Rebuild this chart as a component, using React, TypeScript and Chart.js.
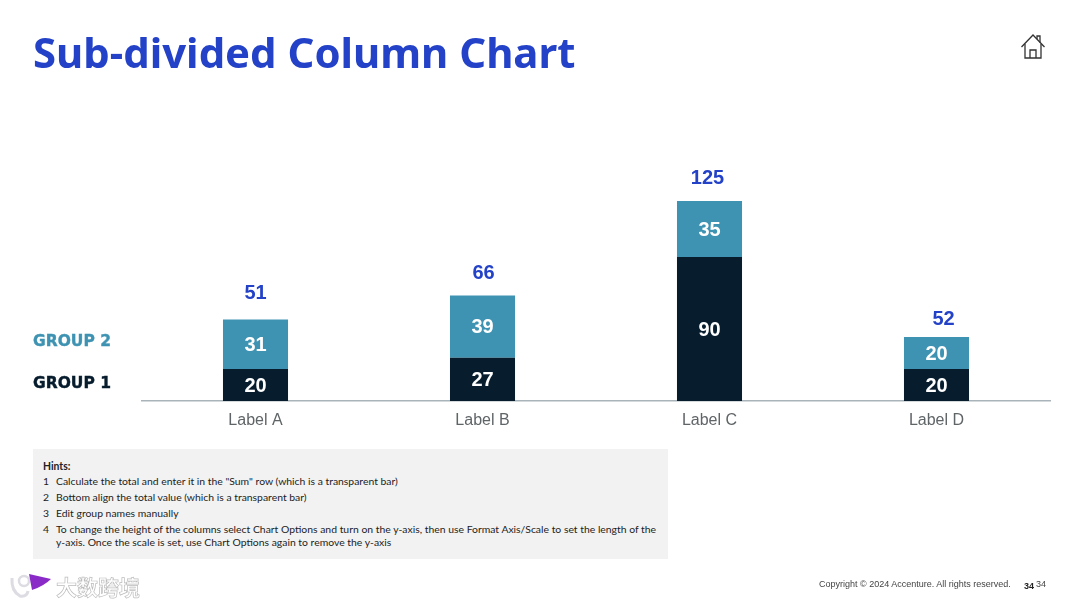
import React, { useEffect, useRef } from "react";
import { Chart, registerables } from "chart.js";

Chart.register(...registerables);

const categories = ["Label A", "Label B", "Label C", "Label D"];
const group1 = [20, 27, 90, 20];
const group2 = [31, 39, 35, 20];
const totals = [51, 66, 125, 52];
const totalGaps = [27, 23, 24, 19];
const totalShifts = [0, 1, -2, 7];
const hintLines = [
  { n: "1", t: 'Calculate the total and enter it in the "Sum" row (which is a transparent bar)', y: 481 },
  { n: "2", t: "Bottom align the total value (which is a transparent bar)", y: 497 },
  { n: "3", t: "Edit group names manually", y: 513 },
  { n: "4", t: "To change the height of the columns select Chart Options and turn on the y-axis, then use Format Axis/Scale to set the length of the", y: 529 },
  { n: "", t: "y-axis. Once the scale is set, use Chart Options again to remove the y-axis", y: 542 },
];

const NAVY = "#071D2E";
const TEAL = "#3F93B2";
const BLUE = "#2342C8";
const SANS = '"Liberation Sans", Arial, sans-serif';

const valueLabels = {
  id: "valueLabels",
  afterDatasetsDraw(chart: any) {
    const { ctx } = chart;
    ctx.save();
    ctx.textAlign = "center";
    ctx.textBaseline = "middle";
    ctx.font = `bold 20px ${SANS}`;
    [0, 1].forEach((d) => {
      const meta = chart.getDatasetMeta(d);
      meta.data.forEach((bar: any, i: number) => {
        ctx.fillStyle = "#FFFFFF";
        ctx.fillText(String(chart.data.datasets[d].data[i]), bar.x, (bar.y + bar.base) / 2 + 1);
      });
    });
    const top = chart.getDatasetMeta(1);
    top.data.forEach((bar: any, i: number) => {
      ctx.fillStyle = BLUE;
      ctx.fillText(String(totals[i]), bar.x + totalShifts[i], bar.y - totalGaps[i] + 1);
    });
    ctx.restore();
  },
};

const abs = (left: number, top: number, extra: React.CSSProperties = {}): React.CSSProperties => ({
  position: "absolute",
  left,
  top,
  whiteSpace: "nowrap",
  lineHeight: 1,
  ...extra,
});

export default function App() {
  const ref = useRef<HTMLCanvasElement>(null);
  useEffect(() => {
    document.body.style.margin = "0";
    const chart = new Chart(ref.current!, {
      type: "bar",
      data: {
        labels: categories,
        datasets: [
          { label: "Group 1", data: group1, backgroundColor: NAVY, barPercentage: 0.2865, categoryPercentage: 1 },
          { label: "Group 2", data: group2, backgroundColor: TEAL, barPercentage: 0.2865, categoryPercentage: 1 },
        ],
      },
      options: {
        responsive: false,
        animation: false,
        layout: { padding: { left: 142, right: 30, top: 81, bottom: 167 } },
        plugins: { legend: { display: false }, tooltip: { enabled: false } },
        scales: {
          x: {
            stacked: true,
            grid: { display: false },
            border: { color: "#A9B4BA", width: 1.5 },
            ticks: { color: "#5F6467", font: { family: SANS, size: 16 }, padding: 2 },
            afterFit: (s: any) => { s.height = 40; },
          },
          y: { stacked: true, display: false, min: 0, max: 200 },
        },
      },
      plugins: [valueLabels],
    } as any);
    return () => chart.destroy();
  }, []);

  return (
    <div style={{ position: "relative", width: 1080, height: 608, overflow: "hidden", background: "#fff" }}>
      <canvas ref={ref} width={1080} height={608} style={{ position: "absolute", left: 0, top: 0, display: "block" }} />

      <div style={abs(33, 31, { fontFamily: '"Noto Sans"', fontWeight: 700, fontSize: 41.9, color: BLUE })}>
        Sub-divided Column Chart
      </div>

      <svg style={{ position: "absolute", left: 1020, top: 33 }} width="26" height="26" viewBox="0 0 26 26" fill="none" stroke="#333" strokeWidth="1.3">
        <path d="M1.5 14 L13 2 L24.5 14" />
        <path d="M17 6 V3 H20 V9.5" />
        <path d="M5 11 V25 H21 V11" />
        <path d="M10 25 V17 H16 V25" />
      </svg>

      <div style={abs(33, 333.5, { fontFamily: '"DejaVu Sans"', fontWeight: 700, fontSize: 15.5, color: TEAL, WebkitTextStroke: `0.4px ${TEAL}` })}>GROUP 2</div>
      <div style={abs(33, 375.5, { fontFamily: '"DejaVu Sans"', fontWeight: 700, fontSize: 15.5, color: NAVY, WebkitTextStroke: `0.4px ${NAVY}` })}>GROUP 1</div>

      <div style={{ position: "absolute", left: 33, top: 449, width: 635, height: 110, background: "#F2F2F2" }} />
      <div style={abs(43, 461, { fontFamily: "Lato", fontWeight: 700, fontSize: 10.4, color: "#222" })}>Hints:</div>
      {hintLines.map((h) => (
        <React.Fragment key={h.y}>
          {h.n && <div style={abs(43, h.y - 5, { fontFamily: "Lato", fontSize: 10.4, color: "#222" })}>{h.n}</div>}
          <div style={abs(56, h.y - 5, { fontFamily: "Lato", fontSize: 10.4, color: "#222" })}>{h.t}</div>
        </React.Fragment>
      ))}

      <svg style={{ position: "absolute", left: 8, top: 571 }} width="46" height="30" viewBox="0 0 46 30">
        <path d="M4 7 Q3 20 12 25 Q19 26 20 20" fill="none" stroke="#DCDCE2" strokeWidth="3" />
        <circle cx="16" cy="10" r="5" fill="none" stroke="#DCDCE2" strokeWidth="2.5" />
        <path d="M21 3 L43 8 Q36 15 24 19 Z" fill="#8A2BC8" />
      </svg>
      <div style={abs(56, 576, {
        fontFamily: '"Noto Sans CJK SC"',
        fontWeight: 700,
        fontSize: 21,
        color: "#FFFFFF",
        WebkitTextStroke: "0.7px #BDBDBD",
      })}>大数跨境</div>

      <div style={abs(819, 579.5, { fontFamily: SANS, fontSize: 9, color: "#444" })}>Copyright © 2024 Accenture. All rights reserved.</div>
      <div style={abs(1024, 582, { fontFamily: SANS, fontWeight: 700, fontSize: 9, color: "#222" })}>34</div>
      <div style={abs(1036, 579.5, { fontFamily: SANS, fontSize: 9, color: "#444" })}>34</div>
    </div>
  );
}
